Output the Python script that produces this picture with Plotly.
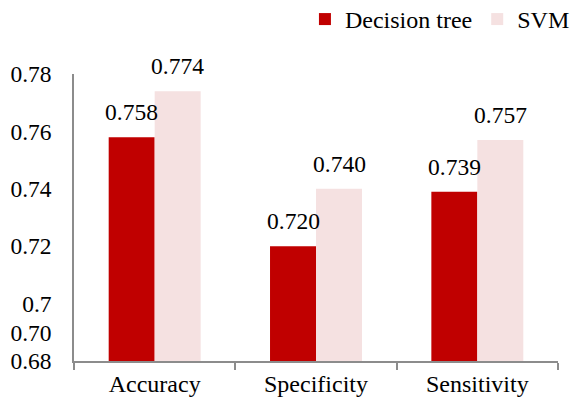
import plotly.graph_objects as go

categories = ["Accuracy", "Specificity", "Sensitivity"]
decision_tree = [0.758, 0.720, 0.739]
svm = [0.774, 0.740, 0.757]
series_names = ["Decision tree", "SVM"]
tick_vals = [0.68, 0.69, 0.70, 0.72, 0.74, 0.76, 0.78]
tick_text = ["0.68", "0.70", "0.7", "0.72", "0.74", "0.76", "0.78"]

RED = "#C00000"
PINK = "#F5E1E1"
FONT = "Times New Roman, Liberation Serif, DejaVu Serif, serif"
FS = 24
FS_Y = 23.5

fig = go.Figure()
fig.add_trace(go.Bar(x=categories, y=decision_tree, name=series_names[0],
                     marker=dict(color=RED, line=dict(width=0))))
fig.add_trace(go.Bar(x=categories, y=svm, name=series_names[1],
                     marker=dict(color=PINK, line=dict(width=0))))

for cat, v in zip(categories, decision_tree):
    fig.add_annotation(x=cat, y=v, xref="x", yref="y", text=f"{v:.3f}",
                       showarrow=False, xshift=-23, yshift=25, yanchor="middle",
                       font=dict(family=FONT, size=FS_Y, color="black"))
for cat, v in zip(categories, svm):
    fig.add_annotation(x=cat, y=v, xref="x", yref="y", text=f"{v:.3f}",
                       showarrow=False, xshift=23, yshift=25, yanchor="middle",
                       font=dict(family=FONT, size=FS_Y, color="black"))

fig.update_layout(
    width=572, height=403,
    margin=dict(l=74, r=14, t=74, b=42, autoexpand=False),
    paper_bgcolor="white", plot_bgcolor="white",
    barmode="group", bargap=0.43, bargroupgap=0,
    font=dict(family=FONT, size=FS, color="black"),
    showlegend=True,
    legend=dict(orientation="h", x=1.035, xanchor="right", y=1.19, yanchor="middle",
                font=dict(family=FONT, size=FS, color="black"),
                itemwidth=30, tracegroupgap=0, bgcolor="rgba(0,0,0,0)"),
    xaxis=dict(showline=True, linecolor="#8C8C8C", linewidth=1.5,
               ticks="outside", tickson="boundaries", ticklen=7,
               tickcolor="#8C8C8C", tickwidth=1.5, showgrid=False,
               tickfont=dict(family=FONT, size=FS, color="black")),
    yaxis=dict(range=[0.68, 0.78], showline=True, linecolor="#8C8C8C",
               linewidth=1.5, ticks="", showgrid=False, zeroline=False,
               tickvals=tick_vals, ticktext=tick_text, ticklabelstandoff=16,
               tickfont=dict(family=FONT, size=FS_Y, color="black")),
)

fig.write_html("out.html", config={"displayModeBar": False},
               post_script="document.body.style.margin='0';document.body.style.padding='0';")
